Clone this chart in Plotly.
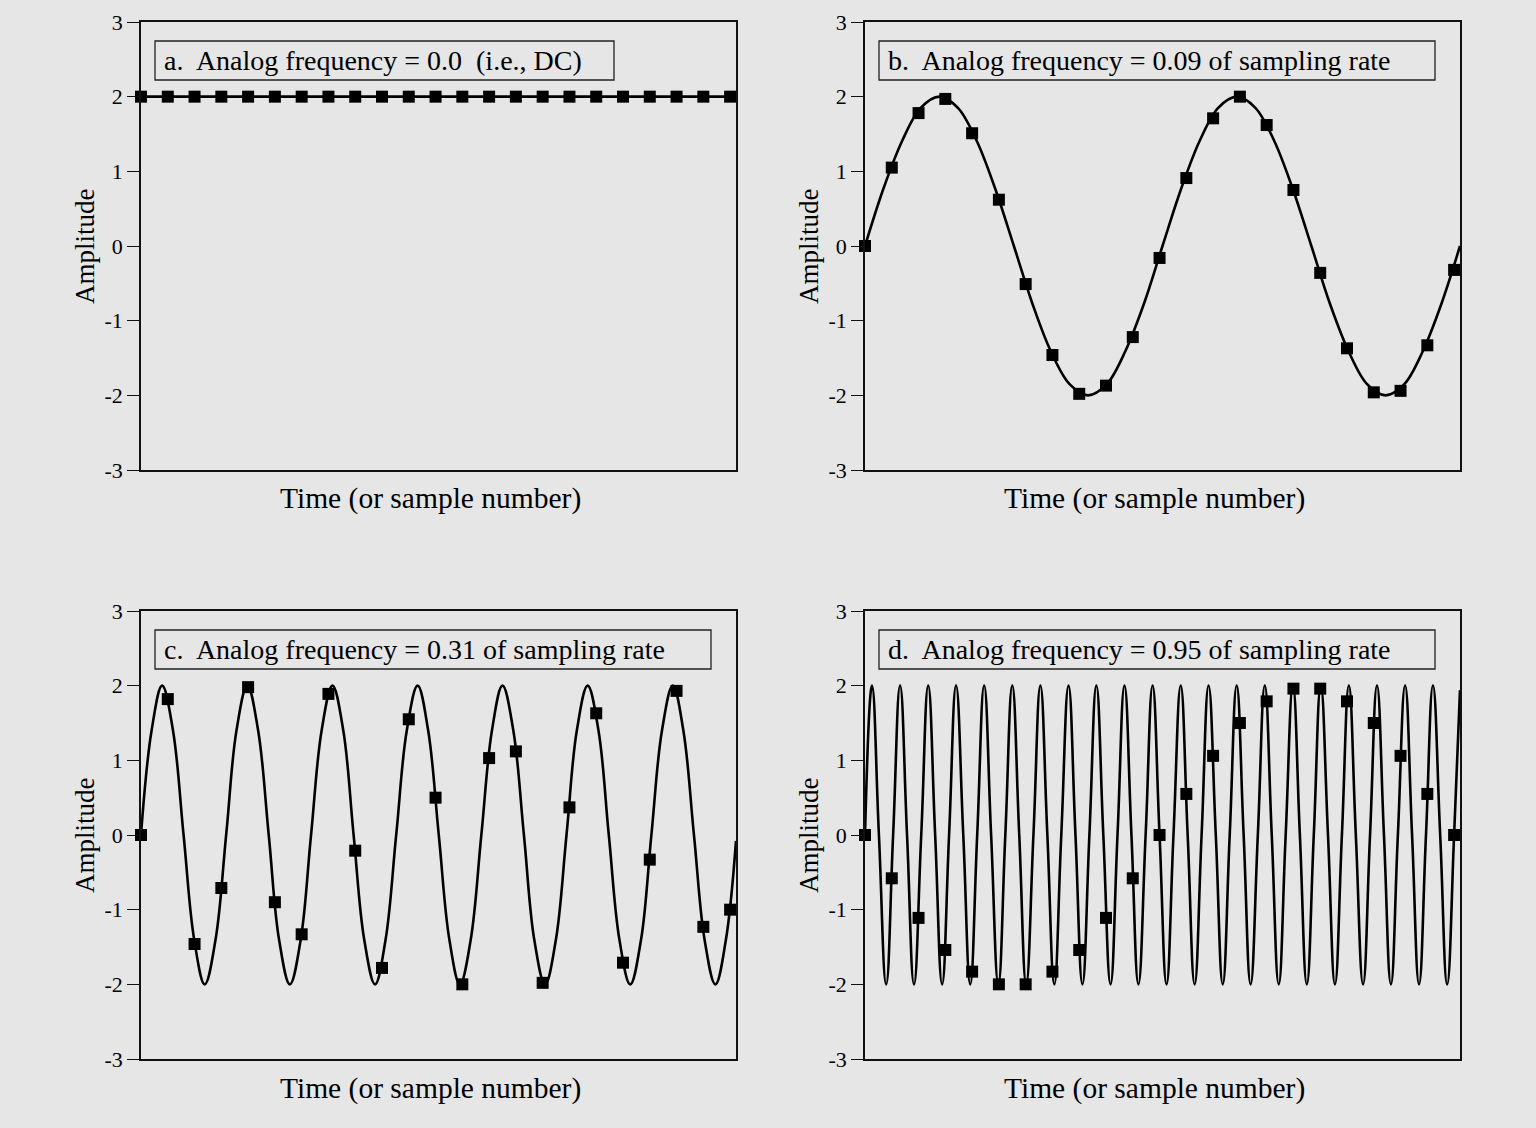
import plotly.graph_objects as go

# ---------------- data ----------------
sample_n = [0, 1, 2, 3, 4, 5, 6, 7, 8, 9, 10, 11, 12, 13, 14, 15, 16, 17, 18, 19, 20, 21, 22]

samples_a = [2, 2, 2, 2, 2, 2, 2, 2, 2, 2, 2, 2, 2, 2, 2, 2, 2, 2, 2, 2, 2, 2, 2]
samples_b = [0, 1.05, 1.78, 1.97, 1.51, 0.62, -0.51, -1.46, -1.98, -1.87, -1.22, -0.16,
             0.91, 1.71, 2.0, 1.62, 0.75, -0.36, -1.37, -1.96, -1.94, -1.33, -0.32]
samples_c = [0, 1.82, -1.46, -0.71, 1.98, -0.90, -1.33, 1.89, -0.21, -1.78, 1.55, 0.50,
             -2.0, 1.03, 1.12, -1.98, 0.37, 1.63, -1.71, -0.33, 1.93, -1.23, -1.0]
samples_d = [0, -0.58, -1.11, -1.54, -1.83, -2.0, -2.0, -1.83, -1.54, -1.11, -0.58, 0,
             0.55, 1.06, 1.5, 1.79, 1.96, 1.96, 1.79, 1.5, 1.06, 0.55, 0]

# analog curves: knot points (zero crossings, peaks, intermediate points)
curve_a_x = [0, 22.22]
curve_a_y = [2, 2]

curve_b_x = [0, 0.69, 1.39, 2.08, 2.78, 3.47, 4.17, 4.86, 5.56, 6.25, 6.94, 7.64, 8.33,
             9.03, 9.72, 10.42, 11.11, 11.81, 12.50, 13.19, 13.89, 14.58, 15.28, 15.97,
             16.67, 17.36, 18.06, 18.75, 19.44, 20.14, 20.83, 21.53, 22.22]
curve_b_y = [0, 0.77, 1.41, 1.85, 2, 1.85, 1.41, 0.77, 0, -0.77, -1.41, -1.85, -2,
             -1.85, -1.41, -0.77, 0, 0.77, 1.41, 1.85, 2, 1.85, 1.41, 0.77,
             0, -0.77, -1.41, -1.85, -2, -1.85, -1.41, -0.77, 0]

curve_c_x = [0, 0.40, 0.79, 1.19, 1.59, 1.99, 2.38, 2.78, 3.18, 3.57, 3.97, 4.37, 4.77,
             5.16, 5.56, 5.96, 6.35, 6.75, 7.15, 7.55, 7.94, 8.34, 8.74, 9.13, 9.53,
             9.93, 10.33, 10.72, 11.12, 11.52, 11.91, 12.31, 12.71, 13.11, 13.50, 13.90,
             14.30, 14.69, 15.09, 15.49, 15.89, 16.28, 16.68, 17.08, 17.47, 17.87, 18.27,
             18.67, 19.06, 19.46, 19.86, 20.25, 20.65, 21.05, 21.45, 21.84, 22.22]
curve_c_y = [0, 1.41, 2, 1.41, 0, -1.41, -2, -1.41,
             0, 1.41, 2, 1.41, 0, -1.41, -2, -1.41,
             0, 1.41, 2, 1.41, 0, -1.41, -2, -1.41,
             0, 1.41, 2, 1.41, 0, -1.41, -2, -1.41,
             0, 1.41, 2, 1.41, 0, -1.41, -2, -1.41,
             0, 1.41, 2, 1.41, 0, -1.41, -2, -1.41,
             0, 1.41, 2, 1.41, 0, -1.41, -2, -1.41, -0.08]

curve_d_x = [0, 0.26, 0.52, 0.79, 1.05, 1.31, 1.57, 1.83, 2.10, 2.36, 2.62, 2.88, 3.14,
             3.40, 3.67, 3.93, 4.19, 4.45, 4.71, 4.98, 5.24, 5.50, 5.76, 6.02, 6.29,
             6.55, 6.81, 7.07, 7.33, 7.60, 7.86, 8.12, 8.38, 8.64, 8.90, 9.17, 9.43,
             9.69, 9.95, 10.21, 10.48, 10.74, 11.00, 11.26, 11.52, 11.79, 12.05, 12.31,
             12.57, 12.83, 13.10, 13.36, 13.62, 13.88, 14.14, 14.40, 14.67, 14.93, 15.19,
             15.45, 15.71, 15.98, 16.24, 16.50, 16.76, 17.02, 17.29, 17.55, 17.81, 18.07,
             18.33, 18.60, 18.86, 19.12, 19.38, 19.64, 19.90, 20.17, 20.43, 20.69, 20.95,
             21.21, 21.48, 21.74, 22.00, 22.22]
curve_d_y = [0, 2, 0, -2, 0, 2, 0, -2, 0, 2, 0, -2, 0, 2, 0, -2, 0, 2, 0, -2,
             0, 2, 0, -2, 0, 2, 0, -2, 0, 2, 0, -2, 0, 2, 0, -2, 0, 2, 0, -2,
             0, 2, 0, -2, 0, 2, 0, -2, 0, 2, 0, -2, 0, 2, 0, -2, 0, 2, 0, -2,
             0, 2, 0, -2, 0, 2, 0, -2, 0, 2, 0, -2, 0, 2, 0, -2, 0, 2, 0, -2,
             0, 2, 0, -2, 0, 1.94]

panel_titles = [
    "a.\u00a0 Analog frequency = 0.0\u00a0 (i.e., DC)",
    "b.\u00a0 Analog frequency = 0.09 of sampling rate",
    "c.\u00a0 Analog frequency = 0.31 of sampling rate",
    "d.\u00a0 Analog frequency = 0.95 of sampling rate",
]
y_tick_vals = [-3, -2, -1, 0, 1, 2, 3]
y_tick_text = ["-3", "-2", "-1", "0", "1", "2", "3"]
y_axis_title = "Amplitude"
x_axis_title = "Time (or sample number)"

# ---------------- layout geometry (pixels) ----------------
W, H = 1536, 1128
BG = "#e6e6e6"
FONT = "Liberation Serif, Times New Roman, serif"


def px(x):
    return x / W


def py(y):
    return 1 - y / H


col_px = [(141, 736), (865, 1460)]
row_px = [(22, 470), (611, 1059)]

curves = [(curve_a_x, curve_a_y, 1.0), (curve_b_x, curve_b_y, 1.0),
          (curve_c_x, curve_c_y, 1.1), (curve_d_x, curve_d_y, 1.3)]
samples = [samples_a, samples_b, samples_c, samples_d]

fig = go.Figure()
layout_axes = {}
annotations = []
shapes = []

for i in range(4):
    r, c = divmod(i, 2)
    x0, x1 = col_px[c]
    y0, y1 = row_px[r]
    ax_id = "" if i == 0 else str(i + 1)
    xa, ya = "x" + ax_id, "y" + ax_id
    cx, cy, sm = curves[i]
    fig.add_trace(go.Scatter(x=cx, y=cy, mode="lines", xaxis=xa, yaxis=ya,
                             line=dict(color="black", width=2.6, shape="spline", smoothing=sm),
                             showlegend=False, hoverinfo="skip"))
    fig.add_trace(go.Scatter(x=sample_n, y=samples[i], mode="markers", xaxis=xa, yaxis=ya,
                             marker=dict(symbol="square", size=12, color="black"),
                             cliponaxis=False, showlegend=False))
    layout_axes["xaxis" + ax_id] = dict(
        domain=[px(x0), px(x1)], range=[0, 22.22], anchor=ya, automargin=False,
        showticklabels=False, ticks="", showgrid=False, zeroline=False,
        showline=True, mirror=True, linecolor="#111111", linewidth=1.5)
    layout_axes["yaxis" + ax_id] = dict(
        domain=[py(y1), py(y0)], range=[-3, 3], anchor=xa, automargin=False,
        tickvals=y_tick_vals, ticktext=y_tick_text, ticks="outside", ticklen=12,
        tickwidth=1.2, tickcolor="#111111", showgrid=False, zeroline=False,
        showline=True, mirror=True, linecolor="#111111", linewidth=1.5,
        tickfont=dict(family=FONT, size=22, color="black"))

    # title box
    bx0 = x0 + 14
    bx1 = {0: 614, 1: 1435, 2: 711, 3: 1435}[i]
    by0, by1 = y0 + 19, y0 + 58
    shapes.append(dict(type="rect", xref="paper", yref="paper",
                       x0=px(bx0), x1=px(bx1), y0=py(by1), y1=py(by0),
                       line=dict(color="#222222", width=1.3), fillcolor="rgba(0,0,0,0)"))
    annotations.append(dict(text=panel_titles[i], xref="paper", yref="paper",
                            x=px(bx0 + 8), y=py((by0 + by1) / 2), xanchor="left",
                            yanchor="middle", showarrow=False, borderpad=0,
                            font=dict(family=FONT, size=28, color="black")))
    # axis titles
    annotations.append(dict(text=y_axis_title, xref="paper", yref="paper",
                            x=px(x0 - 56), y=py((y0 + y1) / 2), textangle=-90,
                            xanchor="center", yanchor="middle", showarrow=False,
                            font=dict(family=FONT, size=27, color="black")))
    annotations.append(dict(text=x_axis_title, xref="paper", yref="paper",
                            x=px((x0 + x1) / 2 - 8), y=py(y1 + 29),
                            xanchor="center", yanchor="middle", showarrow=False,
                            font=dict(family=FONT, size=29.5, color="black")))

fig.update_layout(width=W, height=H, margin=dict(l=0, r=0, t=0, b=0, pad=0, autoexpand=False),
                  paper_bgcolor=BG, plot_bgcolor=BG, showlegend=False, hovermode=False,
                  annotations=annotations, shapes=shapes, **layout_axes)

fig.write_html("out.html", config={"displayModeBar": False},
               post_script="document.body.style.margin='0px';document.body.style.overflow='hidden';")
